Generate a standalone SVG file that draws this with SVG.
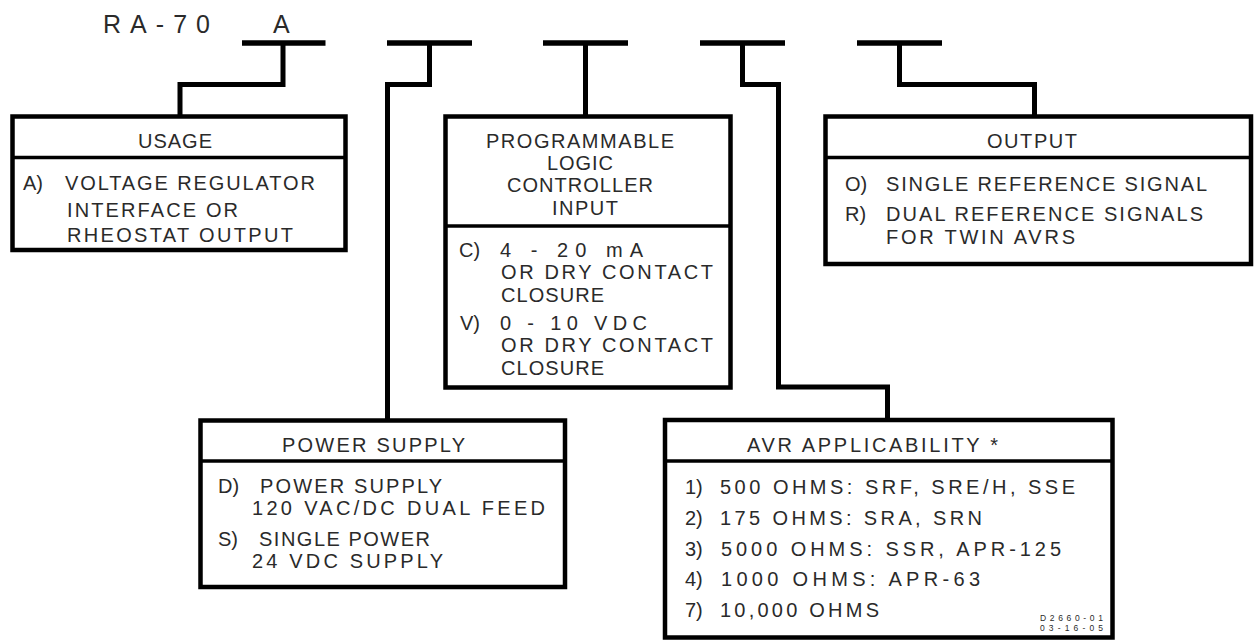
<svg xmlns="http://www.w3.org/2000/svg" width="1254" height="641" viewBox="0 0 1254 641">
<style>
.t{font-family:"Liberation Sans",Arial,sans-serif;font-size:20px;fill:#2a2a2a}
.big{font-size:25px}
.sm{font-size:8.5px}
.box{fill:#fff;stroke:#000;stroke-width:4.5}
.sep{stroke:#000;stroke-width:3.5}
.con{fill:none;stroke:#000;stroke-width:5;stroke-linejoin:miter;stroke-linecap:butt}
.bar{stroke:#000;stroke-width:5.5}
</style>
<rect width="1254" height="641" fill="#fff"/>
<g id="title">
<text class="t big" x="103" y="33" textLength="107">RA-70</text>
<text class="t big" x="273" y="33" textLength="17">A</text>
</g>
<g id="code-slots">
<line class="bar" x1="242" y1="43" x2="325.5" y2="43"/>
<line class="bar" x1="387" y1="43" x2="472" y2="43"/>
<line class="bar" x1="543" y1="43" x2="628" y2="43"/>
<line class="bar" x1="700" y1="43" x2="785" y2="43"/>
<line class="bar" x1="857" y1="43" x2="942" y2="43"/>
</g>
<g id="connectors">
<path class="con" d="M283,43 V84.5 H180 V116.5"/>
<path class="con" d="M429.5,43 V84.5 H387.5 V420.5"/>
<path class="con" d="M585.5,43 V116.5"/>
<path class="con" d="M742.5,43 V84.5 H778.5 V387 H887.5 V420"/>
<path class="con" d="M899.5,43 V84.5 H1034.5 V116.5"/>
</g>
<g id="usage">
<rect class="box" x="12.5" y="116.5" width="333" height="133.5"/>
<line class="sep" x1="12.5" y1="157.5" x2="345.5" y2="157.5"/>
<text class="t" x="138" y="148" textLength="74">USAGE</text>
<text class="t" y="190"><tspan x="23">A)</tspan><tspan x="65" textLength="250">VOLTAGE REGULATOR</tspan></text>
<text class="t" x="67" y="216.5" textLength="171">INTERFACE OR</text>
<text class="t" x="67" y="242" textLength="226">RHEOSTAT OUTPUT</text>
</g>
<g id="plc-input">
<rect class="box" x="445.5" y="116.5" width="285" height="271"/>
<line class="sep" x1="445.5" y1="226" x2="730.5" y2="226"/>
<text class="t" x="486" y="147.5" textLength="188">PROGRAMMABLE</text>
<text class="t" x="547" y="169.9" textLength="66">LOGIC</text>
<text class="t" x="507" y="192.3" textLength="146">CONTROLLER</text>
<text class="t" x="552" y="214.7" textLength="66">INPUT</text>
<text class="t" y="256.7"><tspan x="459">C)</tspan><tspan x="500" textLength="143">4 - 20 mA</tspan></text>
<text class="t" x="501" y="279.1" textLength="212">OR DRY CONTACT</text>
<text class="t" x="501" y="301.5" textLength="103">CLOSURE</text>
<text class="t" y="330"><tspan x="460">V)</tspan><tspan x="500" textLength="147">0 - 10 VDC</tspan></text>
<text class="t" x="501" y="352.4" textLength="212">OR DRY CONTACT</text>
<text class="t" x="501" y="374.8" textLength="103">CLOSURE</text>
</g>
<g id="output">
<rect class="box" x="825.5" y="116.5" width="425.5" height="147.5"/>
<line class="sep" x1="825.5" y1="157.5" x2="1251" y2="157.5"/>
<text class="t" x="987" y="148" textLength="90">OUTPUT</text>
<text class="t" y="190.7"><tspan x="845">O)</tspan><tspan x="886" textLength="321">SINGLE REFERENCE SIGNAL</tspan></text>
<text class="t" y="221.2"><tspan x="845">R)</tspan><tspan x="886" textLength="317">DUAL REFERENCE SIGNALS</tspan></text>
<text class="t" x="886" y="243.6" textLength="189">FOR TWIN AVRS</text>
</g>
<g id="power-supply">
<rect class="box" x="200.5" y="420.5" width="364.5" height="166.5"/>
<line class="sep" x1="200.5" y1="461" x2="565" y2="461"/>
<text class="t" x="282" y="451.7" textLength="183">POWER SUPPLY</text>
<text class="t" y="493"><tspan x="218">D)</tspan><tspan x="260" textLength="182">POWER SUPPLY</tspan></text>
<text class="t" x="252" y="515.4" textLength="293">120 VAC/DC DUAL FEED</text>
<text class="t" y="545.5"><tspan x="218">S)</tspan><tspan x="259" textLength="171">SINGLE POWER</tspan></text>
<text class="t" x="252" y="567.9" textLength="191">24 VDC SUPPLY</text>
</g>
<g id="avr-applicability">
<rect class="box" x="665" y="420" width="447.5" height="217.5"/>
<line class="sep" x1="665" y1="461" x2="1112.5" y2="461"/>
<text class="t" x="747" y="451.7" textLength="251">AVR APPLICABILITY *</text>
<text class="t" y="494.3"><tspan x="685">1)</tspan><tspan x="720" textLength="355">500 OHMS: SRF, SRE/H, SSE</tspan></text>
<text class="t" y="525"><tspan x="685">2)</tspan><tspan x="720" textLength="262">175 OHMS: SRA, SRN</tspan></text>
<text class="t" y="555.7"><tspan x="685">3)</tspan><tspan x="721" textLength="340">5000 OHMS: SSR, APR-125</tspan></text>
<text class="t" y="586"><tspan x="685">4)</tspan><tspan x="721" textLength="259">1000 OHMS: APR-63</tspan></text>
<text class="t" y="617.3"><tspan x="685">7)</tspan><tspan x="720" textLength="159">10,000 OHMS</tspan></text>
<text class="t sm" x="1040" y="621" textLength="63">D2660-01</text>
<text class="t sm" x="1040" y="630.6" textLength="63">03-16-05</text>
</g>
</svg>
